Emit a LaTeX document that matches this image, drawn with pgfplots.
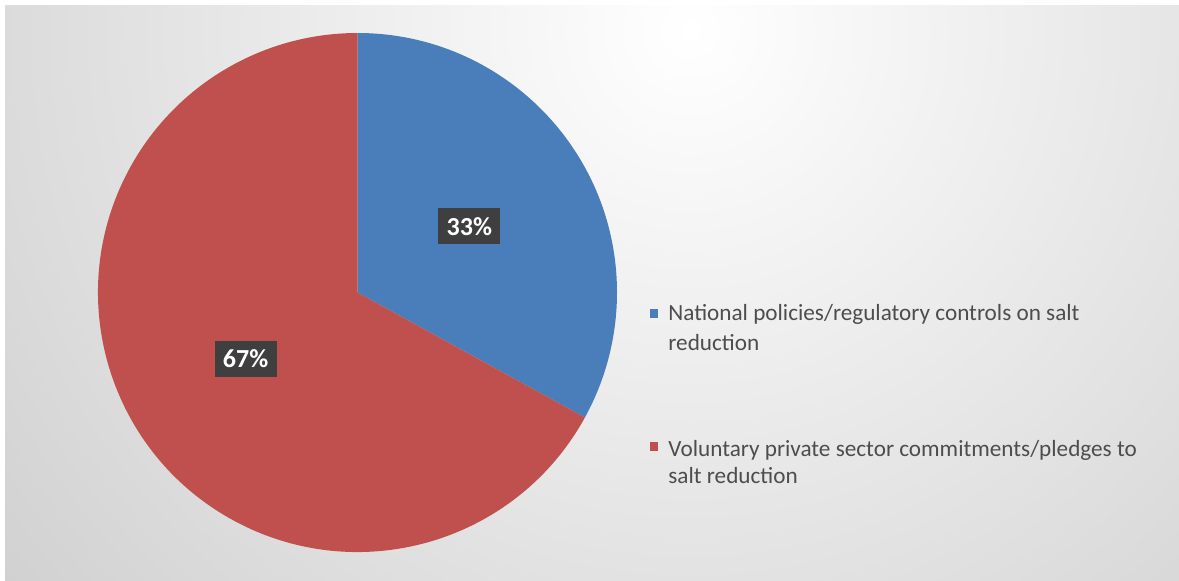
\documentclass[border=0pt]{standalone}
\usepackage{pgfplots}
\pgfplotsset{compat=1.18}
\usepackage{pgfplotstable}
\usepackage{fontspec}
\setmainfont{Carlito}
\definecolor{slice1}{HTML}{4A7EBB}
\definecolor{slice2}{HTML}{C0504D}
\definecolor{labelbg}{HTML}{3F3F3F}
\definecolor{bgout}{HTML}{C6C6C6}
\definecolor{legtext}{HTML}{4D4D4D}
\pgfdeclareplotmark{nothing}{}
\pgfplotstableread{
x y cum val col
357.5 287.5 0 33 1
357.5 287.5 33 67 2
}\piedata
\begin{document}%
\begin{tikzpicture}%
\begin{axis}[hide axis, scale only axis, width=589.5pt, height=290pt,
  xmin=0, xmax=1179, ymin=0, ymax=580, clip=false]
\fill[white] (axis cs:0,0) rectangle (axis cs:1179,580);
\begin{scope}
\clip (axis cs:5,0) rectangle (axis cs:1179,574);
\shade[overlay, inner color=white, outer color=bgout] (axis cs:690,550) circle[radius=545pt];
\end{scope}
\addplot[scatter, only marks, mark=nothing, point meta=\thisrow{val},
  visualization depends on={\thisrow{cum} \as \cum},
  visualization depends on={\thisrow{val} \as \val},
  visualization depends on={\thisrow{col} \as \colidx},
  scatter/@pre marker code/.code={%
    \pgfmathsetmacro\sa{90-3.6*\cum}%
    \pgfmathsetmacro\ea{90-3.6*(\cum+\val)}%
    \pgfmathsetmacro\ma{(\sa+\ea)/2}%
    \pgfmathtruncatemacro\ci{\colidx}%
    \pgfmathtruncatemacro\vi{round(\val)}%
    \fill[draw=none, fill=slice\ci] (0,0) -- (\sa:129.75pt) arc[start angle=\sa, end angle=\ea, radius=129.75pt] -- cycle;
    \node[draw=none, fill=labelbg, text=white, inner sep=0pt, minimum width=31pt, minimum height=18pt,
      font=\fontsize{13}{15}\selectfont\bfseries] at (\ma:65pt) {\vi\%};
  },
  scatter/@post marker code/.code={}
] table[x=x, y=y] {\piedata};
% legend
\fill[slice1] (axis cs:650,262) rectangle (axis cs:658,271);
\fill[slice2] (axis cs:650,129) rectangle (axis cs:658,138);
\begin{scope}[every node/.style={anchor=base west, inner sep=0pt, text=legtext, font=\fontsize{11.6}{14}\selectfont}]
\node at (axis cs:668,260) {National policies/regulatory controls on salt};
\node at (axis cs:668,230) {reduction};
\node at (axis cs:668,124) {Voluntary private sector commitments/pledges to};
\node at (axis cs:668,97) {salt reduction};
\end{scope}
\end{axis}
\pgfresetboundingbox
\useasboundingbox (current axis.south west) rectangle (current axis.north east);
\end{tikzpicture}%
\end{document}
